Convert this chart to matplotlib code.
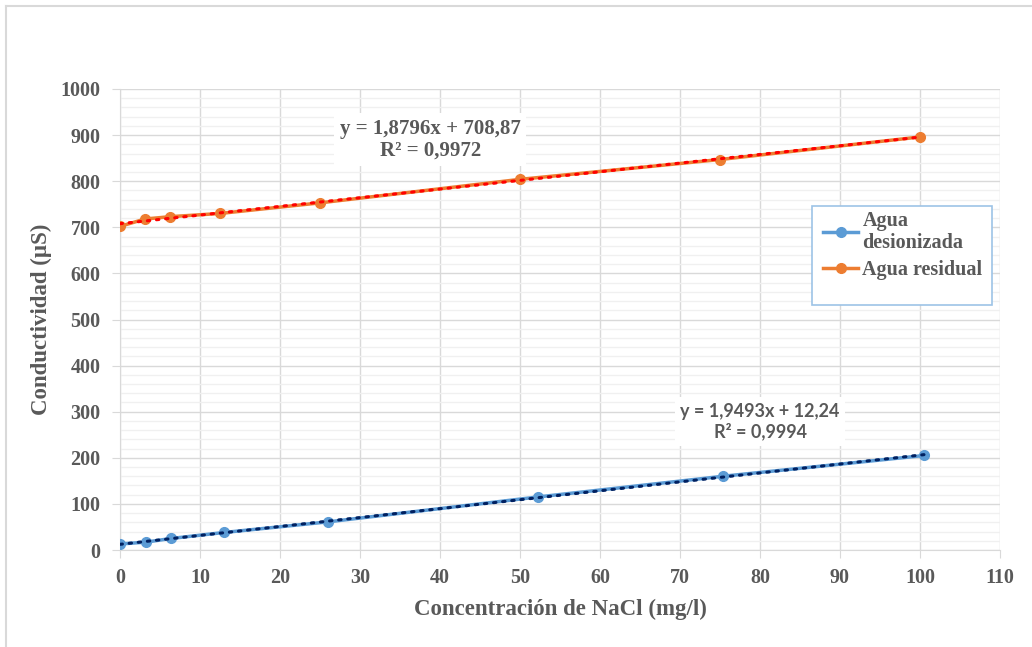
import matplotlib.pyplot as plt
import numpy as np
from matplotlib.lines import Line2D
from matplotlib.patches import Rectangle
from matplotlib.ticker import MultipleLocator

# datos
x_desion = [0, 3.2, 6.4, 13.0, 26.0, 52.2, 75.4, 100.5]
y_desion = [13, 17, 25, 38, 61, 115, 160, 205]

x_resid = [0, 3.125, 6.25, 12.5, 25, 50, 75, 100]
y_resid = [702, 718, 723, 730, 753, 804, 847, 896]

labels = ['Agua\ndesionizada', 'Agua residual']
eq_desion = 'y = 1,9493x + 12,24\nR² = 0,9994'
eq_resid = 'y = 1,8796x + 708,87\nR² = 0,9972'

azul = '#5b9bd5'
naranja = '#ed7d31'
gris = '#595959'
serif = 'Liberation Serif'

W, H = 1032, 647
fig = plt.figure(figsize=(W/100, H/100), dpi=100)
ax = fig.add_axes([120/W, 1 - 550/H, 880/W, 461/H])

# marco exterior
fig.add_artist(Line2D([6/W, 1], [1 - 6/H, 1 - 6/H], color='#d9d9d9', lw=1.5))
fig.add_artist(Line2D([6/W, 6/W], [0, 1 - 6/H], color='#d9d9d9', lw=1.5))

ax.plot(x_desion, y_desion, '-o', color=azul, lw=2.5, ms=7, zorder=3)
ax.plot(x_resid, y_resid, '-o', color=naranja, lw=2.5, ms=7, zorder=3)

# lineas de tendencia
for xs, ys, c in [(x_desion, y_desion, '#002060'), (x_resid, y_resid, '#ff0000')]:
    p = np.polyfit(xs, ys, 1)
    xx = np.array([min(xs), max(xs)])
    ax.plot(xx, np.polyval(p, xx), linestyle=(0, (0.8, 2.2)), color=c, lw=2.2,
            dash_capstyle='round', zorder=4)

ax.set_xlim(0, 110)
ax.set_ylim(0, 1000)
ax.xaxis.set_major_locator(MultipleLocator(10))
ax.yaxis.set_major_locator(MultipleLocator(100))
ax.yaxis.set_minor_locator(MultipleLocator(20))
ax.grid(which='major', color='#d9d9d9', lw=1)
ax.grid(which='minor', axis='y', color='#f0f0f0', lw=1)
ax.set_axisbelow(True)
for s in ['top', 'right']:
    ax.spines[s].set_visible(False)
for s in ['left', 'bottom']:
    ax.spines[s].set_color('#d9d9d9')
ax.tick_params(which='major', length=6, color='#d9d9d9', labelcolor=gris)
ax.tick_params(axis='y', pad=8)
ax.tick_params(axis='x', pad=7)
ax.tick_params(which='minor', length=0)
for lab in ax.get_xticklabels() + ax.get_yticklabels():
    lab.set_fontfamily(serif)
    lab.set_fontweight('bold')
    lab.set_fontsize(14.5)

ax.set_xlabel('Concentración de NaCl (mg/l)', fontfamily=serif, fontweight='bold',
              fontsize=16.5, color=gris, labelpad=8)
ax.set_ylabel('Conductividad (µS)', fontfamily=serif, fontweight='bold',
              fontsize=16.5, color=gris, labelpad=6)

ax.text(38.8, 890, eq_resid, ha='center', va='center', fontfamily=serif,
        fontweight='bold', fontsize=15, color=gris, linespacing=1.1,
        bbox=dict(facecolor='white', edgecolor='none', pad=4), zorder=5)
ax.text(80, 278, eq_desion, ha='center', va='center', fontfamily='Lato',
        fontweight='bold', fontsize=13, color=gris, linespacing=1.2,
        bbox=dict(facecolor='white', edgecolor='none', pad=4), zorder=5)

# leyenda con marco dibujado aparte
lx0, lx1, ly0, ly1 = 812, 992, 206, 305
ax.add_patch(Rectangle(((lx0 - 120)/880, (550 - ly1)/461), (lx1 - lx0)/880, (ly1 - ly0)/461,
                       transform=ax.transAxes, facecolor='white', edgecolor='#9dc3e6',
                       lw=1.2, zorder=6, clip_on=False))
handles = [Line2D([], [], color=azul, marker='o', lw=2.5, ms=7),
           Line2D([], [], color=naranja, marker='o', lw=2.5, ms=7)]
leg = ax.legend(handles, labels, loc='upper left',
                bbox_to_anchor=((lx0 + 5 - 120)/880, (550 - ly0 + 1)/461),
                borderaxespad=0, prop={'family': serif, 'weight': 'bold', 'size': 14.5},
                labelcolor=gris, frameon=False, borderpad=0.3,
                handlelength=1.75, handletextpad=0.2, labelspacing=0.35)
leg.set_zorder(7)
for t in leg.get_texts():
    t.set_linespacing(1.1)

fig.savefig('out.png', dpi=100, facecolor='white')
